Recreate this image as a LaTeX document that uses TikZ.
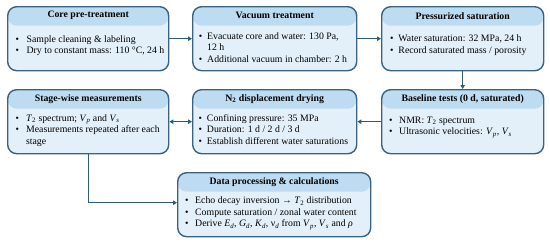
\documentclass[tikz,border=0pt]{standalone}
\usepackage{fontspec}
\setmainfont{Liberation Serif}
\usetikzlibrary{arrows.meta}
\definecolor{bord}{HTML}{3A6381}
\definecolor{headc}{HTML}{BEDCF1}
\definecolor{bodyc}{HTML}{E4F0F9}
\definecolor{arr}{HTML}{2D5B7A}
\def\bw{10.5pt}
\newcommand{\bl}{\makebox[\bw][l]{\textbullet}}
\newcommand{\iv}[1]{\textit{#1}}
\tikzset{
  stagebox/.style={draw=bord, line width=1.4pt, rounded corners=9pt, fill=bodyc, inner sep=0pt,
    anchor=north west,
    path picture={\fill[headc] ([yshift=-19pt]path picture bounding box.north west) rectangle (path picture bounding box.north east);}},
  titletext/.style={font=\fontsize{9.8}{11}\selectfont\bfseries, inner sep=0pt, text=black},
  bodytext/.style={font=\fontsize{9.8}{11.5}\selectfont, inner sep=0pt, anchor=west, align=left, text=black},
  conn/.style={draw=arr, line width=1.3pt, -{Triangle[length=4pt,width=4.5pt]}},
  conntwo/.style={draw=arr, line width=1.3pt, {Triangle[length=4pt,width=4.5pt]}-{Triangle[length=4pt,width=4.5pt]}}
}
\begin{document}
\begin{tikzpicture}[x=1pt,y=1pt]
\useasboundingbox (0,0) rectangle (550,-242);

% row 1
\node[stagebox, minimum width=161pt, minimum height=64pt] (b1) at (7,-6) {};
\node[stagebox, minimum width=164pt, minimum height=64pt] (b2) at (192,-6) {};
\node[stagebox, minimum width=162pt, minimum height=64pt] (b3) at (381,-6) {};
% row 2
\node[stagebox, minimum width=161pt, minimum height=64pt] (b4) at (7,-89) {};
\node[stagebox, minimum width=164pt, minimum height=64pt] (b5) at (192,-89) {};
\node[stagebox, minimum width=162pt, minimum height=64pt] (b6) at (381,-89) {};
% row 3
\node[stagebox, minimum width=193pt, minimum height=64pt] (b7) at (177,-172) {};

% titles
\node[titletext] (t1) at ([yshift=-9.7pt]b1.north) {Core pre-treatment};
\node[titletext] (t2) at ([yshift=-9.7pt]b2.north) {Vacuum treatment};
\node[titletext] (t3) at ([yshift=-9.7pt]b3.north) {Pressurized saturation};
\node[titletext] (t4) at ([yshift=-9.7pt]b4.north) {Stage-wise measurements};
\node[titletext] (t5) at ([yshift=-9.7pt]b5.north) {N\textsubscript{2} displacement drying};
\node[titletext] (t6) at ([yshift=-9.7pt]b6.north) {Baseline tests (0 d, saturated)};
\node[titletext] (t7) at ([yshift=-9.7pt]b7.north) {Data processing \& calculations};

% bodies
\node[bodytext] (x1) at ([xshift=8.4pt,yshift=-39.5pt]b1.north west) {%
\def\bw{11pt}\begin{tabular}{@{}l@{}l@{}}
\bl & Sample cleaning \& labeling\\
\bl & Dry to constant mass: 110 °C, 24 h
\end{tabular}};
\node[bodytext] (x2) at ([xshift=6.7pt,yshift=-42.3pt]b2.north west) {%
\def\bw{8.3pt}\begin{tabular}{@{}l@{}l@{}}
\bl & Evacuate core and water: 130 Pa,\\
 & 12 h\\
\bl & Additional vacuum in chamber: 2 h
\end{tabular}};
\node[bodytext] (x3) at ([xshift=9pt,yshift=-39.2pt]b3.north west) {%
\def\bw{8.3pt}\begin{tabular}{@{}l@{}l@{}}
\bl & Water saturation: 32 MPa, 24 h\\
\bl & Record saturated mass / porosity
\end{tabular}};
\node[bodytext] (x4) at ([xshift=8.4pt,yshift=-41.5pt]b4.north west) {%
\def\bw{10.5pt}\begin{tabular}{@{}l@{}l@{}}
\bl & \iv{T}\textsubscript{2} spectrum; \iv{V}\textsubscript{\iv{p}} and \iv{V}\textsubscript{\iv{s}}\\
\bl & Measurements repeated after each\\
 & stage
\end{tabular}};
\node[bodytext] (x5) at ([xshift=6.5pt,yshift=-41.5pt]b5.north west) {%
\def\bw{8.3pt}\begin{tabular}{@{}l@{}l@{}}
\bl & Confining pressure: 35 MPa\\
\bl & Duration: 1 d / 2 d / 3 d\\
\bl & Establish different water saturations
\end{tabular}};
\node[bodytext] (x6) at ([xshift=8pt,yshift=-37.7pt]b6.north west) {%
\def\bw{10pt}\begin{tabular}{@{}l@{}l@{}}
\bl & NMR: \iv{T}\textsubscript{2} spectrum\\
\bl & Ultrasonic velocities: \iv{V}\textsubscript{\iv{p}}, \iv{V}\textsubscript{\iv{s}}
\end{tabular}};
\node[bodytext] (x7) at ([xshift=8pt,yshift=-40.8pt]b7.north west) {%
\def\bw{10pt}\begin{tabular}{@{}l@{}l@{}}
\bl & Echo decay inversion → \iv{T}\textsubscript{2} distribution\\
\bl & Compute saturation / zonal water content\\
\bl & Derive \iv{E}\textsubscript{\iv{d}}, \iv{G}\textsubscript{\iv{d}}, \iv{K}\textsubscript{\iv{d}}, ν\textsubscript{\iv{d}} from \iv{V}\textsubscript{\iv{p}}, \iv{V}\textsubscript{\iv{s}} and \iv{ρ}
\end{tabular}};

% connectors
\draw[conn] (b1.east) -- (b2.west);
\draw[conn] (b2.east) -- (b3.west);
\draw[conn] (b3.south) -- (b6.north);
\draw[conn] (b6.west) -- (b5.east);
\draw[conntwo] (b5.west) -- (b4.east);
\draw[conn] (b4.south) |- ([yshift=2pt]b7.west);
\end{tikzpicture}
\end{document}
